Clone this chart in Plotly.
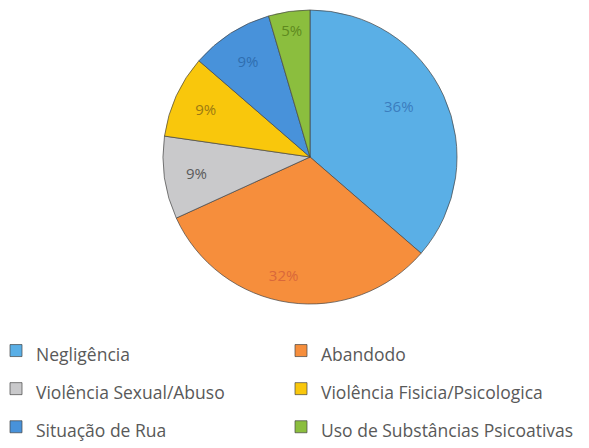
import plotly.graph_objects as go

labels = ["Negligência", "Abandodo", "Violência Sexual/Abuso",
          "Violência Fisicia/Psicologica", "Situação de Rua",
          "Uso de Substâncias Psicoativas"]
counts = [8, 7, 2, 2, 2, 1]

slice_colors = ["#5AAFE6", "#F68E3C", "#C9C9CB", "#F9C70C", "#4892DA", "#8BBE3E"]
text_colors = ["#3B7DBE", "#D9683A", "#5A5A5A", "#9C7A12", "#2F6EB0", "#5E8A1E"]

EM = "\u2003"
EN = "\u2002"
pct = "%{percent:.0%}"
# padding (invisible spaces / empty lines) nudges the two large labels outward
text_templates = [
    EM + EM + EN + pct + "<br>" + EM + "<br>" + EM,
    (EM + "<br>") * 4 + pct + EM + EM,
    pct, pct, pct, pct,
]

fig = go.Figure(go.Pie(
    labels=[f'<span style="font-size:17.5px">{l}</span>' for l in labels],
    values=counts,
    sort=False,
    direction="clockwise",
    rotation=0,
    marker=dict(colors=slice_colors, line=dict(color="rgba(70,70,70,0.7)", width=1)),
    texttemplate=text_templates,
    textposition="inside",
    insidetextorientation="horizontal",
    textfont=dict(family="Open Sans", size=15, color=text_colors),
    domain=dict(x=[155/589, 449/589], y=[152/448, 446/448]),
    hovertemplate="%{label}: %{percent:.0%}<extra></extra>",
))

fig.update_layout(
    width=589, height=448,
    margin=dict(l=0, r=0, t=0, b=0),
    paper_bgcolor="white",
    plot_bgcolor="white",
    showlegend=True,
    legend=dict(
        orientation="h",
        x=0, xanchor="left",
        y=(448-318.5)/448, yanchor="top",
        indentation=-12,
        entrywidth=252, entrywidthmode="pixels",
        font=dict(family="Open Sans", size=27, color="#595959"),
        traceorder="normal",
        bgcolor="rgba(0,0,0,0)",
    ),
)

fig.write_html("out.html")
